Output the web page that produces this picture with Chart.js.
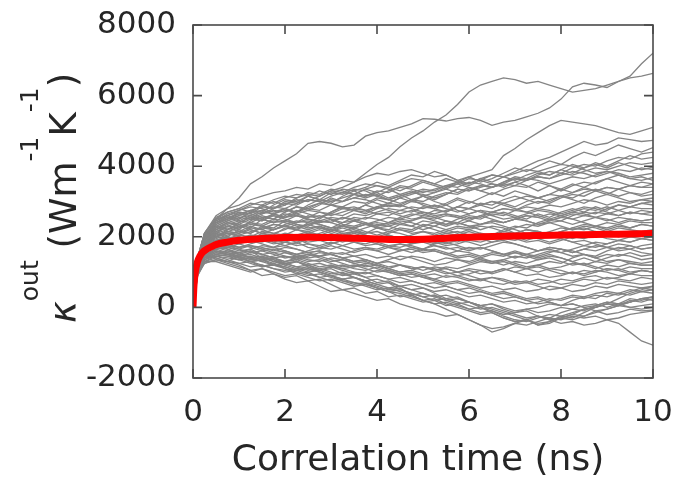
<!DOCTYPE html>
<html>
<head>
<meta charset="utf-8">
<script src="https://cdn.jsdelivr.net/npm/chart.js@4.4.0/dist/chart.umd.min.js"></script>
<style>
    html, body { margin: 0; padding: 0; background: #fff; }
    #chart { display: block; }
</style>
</head>
<body>
<canvas id="chart" width="679" height="478"></canvas>
<script>
// correlation time (ns) shared by every gray run
const times = [0, 0.1, 0.25, 0.5, 0.75, 1, 1.25, 1.5, 1.75, 2, 2.25, 2.5, 2.75, 3, 3.25, 3.5, 3.75, 4, 4.25, 4.5, 4.75, 5,
    5.25, 5.5, 5.75, 6, 6.25, 6.5, 6.75, 7, 7.25, 7.5, 7.75, 8, 8.25, 8.5, 8.75, 9, 9.25, 9.5, 9.75, 10];

// individual runs, kappa_out (W m^-1 K^-1)
const runA = [0, 1300, 1900, 2500, 2800, 3100, 3500, 3700, 3950, 4150, 4350, 4650, 4700, 4650, 4550, 4600, 4850, 4950, 5000, 5100, 5200, 5350, 5330, 5280, 5350, 5380, 5300, 5160, 5250, 5300, 5400, 5500, 5650, 5900, 6250, 6350, 6300, 6230, 6400, 6550, 6900, 7200];
const runB = [0, 1200, 1800, 2200, 2400, 2500, 2700, 2650, 2800, 2900, 3050, 3000, 3150, 3300, 3400, 3550, 3800, 4050, 4250, 4550, 4800, 5000, 5250, 5450, 5750, 6100, 6300, 6400, 6500, 6450, 6350, 6400, 6300, 6200, 6100, 6150, 6200, 6300, 6400, 6500, 6550, 6630];
const runC = [0, 1100, 1700, 2100, 2300, 2200, 2450, 2600, 2500, 2700, 2850, 2750, 2900, 3100, 3000, 3200, 3350, 3250, 3400, 3300, 3450, 3600, 3500, 3650, 3550, 3700, 3800, 3900, 4300, 4500, 4750, 4950, 5150, 5300, 5250, 5200, 5150, 5050, 4950, 4900, 5000, 5100];
const runD = [0, 900, 1300, 1400, 1300, 1200, 1050, 900, 950, 800, 700, 750, 600, 450, 500, 400, 300, 200, 250, 100, 0, -100, -150, -250, -200, -350, -500, -600, -550, -450, -500, -400, -300, -350, -250, -300, -250, -350, -450, -700, -950, -1070];
const runE = [0, 1000, 1400, 1700, 1600, 1500, 1400, 1450, 1300, 1200, 1100, 1150, 1000, 900, 800, 850, 700, 600, 500, 550, 350, 200, 100, -50, -200, -350, -500, -700, -600, -450, -350, -250, -300, -150, -50, -100, 50, 150, 100, 250, 200, 300];
const runF = [0, 1100, 1500, 1400, 1300, 1450, 1300, 1150, 1250, 1100, 950, 1000, 850, 900, 750, 650, 700, 550, 450, 300, 350, 200, 250, 100, 0, -100, -200, -150, -300, -400, -350, -500, -450, -300, -200, -250, -100, -200, -150, -50, -100, -80];
const runG = [0, 1200, 1600, 1800, 1650, 1500, 1600, 1400, 1350, 1200, 1300, 1150, 1050, 1100, 950, 1000, 850, 700, 750, 600, 500, 550, 400, 250, 300, 150, 50, 100, -50, -150, -100, -250, -350, -300, -200, -50, 0, 100, 50, 200, 150, 250];
const runH = [0, 1000, 1300, 1300, 1200, 1100, 1000, 1100, 950, 850, 900, 750, 800, 650, 500, 550, 400, 450, 300, 350, 250, 150, 200, 50, 100, -50, 0, -100, -200, -150, -50, 0, 100, 50, 200, 300, 250, 400, 350, 450, 550, 500];
const runI = [0, 1100, 1400, 1600, 1500, 1550, 1400, 1300, 1400, 1250, 1150, 1200, 1050, 950, 1000, 850, 750, 650, 700, 500, 400, 300, 350, 200, 100, 150, 0, -150, -300, -400, -350, -500, -400, -250, -300, -150, 0, 100, 250, 400, 500, 600];
const runJ = [0, 1300, 2000, 2400, 2600, 2500, 2700, 2900, 2800, 3000, 2950, 3150, 3050, 3250, 3200, 3350, 3300, 3150, 3300, 3450, 3400, 3550, 3450, 3350, 3500, 3650, 3600, 3750, 3700, 3850, 4000, 4150, 4250, 4400, 4550, 4700, 4600, 4650, 4800, 4750, 4700, 4730];
const runK = [0, 1200, 1900, 2300, 2200, 2400, 2550, 2450, 2650, 2800, 2700, 2900, 3050, 2950, 3150, 3300, 3400, 3550, 3450, 3600, 3750, 3700, 3850, 3750, 3600, 3700, 3550, 3650, 3800, 3950, 3850, 4000, 4150, 4050, 4250, 4400, 4300, 4450, 4600, 4500, 4400, 4530];
const runL = [0, 1100, 1700, 2000, 2200, 2350, 2250, 2500, 2400, 2600, 2750, 2650, 2550, 2700, 2850, 2750, 2900, 2800, 2950, 3100, 3000, 3150, 3050, 3200, 3350, 3300, 3450, 3400, 3550, 3700, 3650, 3800, 3750, 3900, 4050, 3950, 4100, 4000, 4150, 4300, 4200, 4250];
const runM = [0, 1400, 2100, 2600, 2800, 2900, 3050, 3150, 3250, 3300, 3400, 3350, 3500, 3450, 3600, 3550, 3700, 3800, 3750, 3850, 3900, 3800, 3700, 3750, 3600, 3500, 3650, 3550, 3700, 3600, 3750, 3850, 3750, 3900, 3800, 3950, 4050, 3950, 4100, 4000, 3900, 3970];
const runN = [0, 1300, 1950, 2400, 2500, 2700, 2650, 2850, 3000, 2900, 3100, 3200, 3150, 3300, 3250, 3400, 3500, 3450, 3350, 3200, 3300, 3150, 3250, 3350, 3250, 3400, 3300, 3200, 3350, 3450, 3400, 3550, 3450, 3300, 3450, 3550, 3500, 3650, 3750, 3650, 3600, 3680];
const runO = [0, 1200, 1800, 2100, 2000, 2200, 2100, 2300, 2250, 2450, 2400, 2600, 2500, 2700, 2850, 2750, 2900, 3050, 2950, 3100, 3200, 3300, 3250, 3400, 3550, 3450, 3600, 3500, 3400, 3550, 3450, 3300, 3450, 3350, 3500, 3400, 3550, 3650, 3550, 3450, 3400, 3500];
const runP = [0, 1350, 2000, 2300, 2450, 2600, 2750, 2700, 2900, 3050, 3000, 3150, 3300, 3200, 3350, 3300, 3150, 3250, 3100, 3200, 3050, 3150, 3000, 2900, 3050, 2950, 3100, 3250, 3150, 3300, 3200, 3100, 3200, 3350, 3250, 3400, 3300, 3200, 3350, 3250, 3200, 3300];
const runQ = [0, 1000, 1500, 1800, 1900, 2000, 1900, 2100, 2050, 2250, 2200, 2400, 2350, 2250, 2400, 2550, 2500, 2650, 2600, 2750, 2700, 2850, 2800, 2700, 2850, 3000, 2900, 2800, 2950, 2850, 3000, 3100, 3000, 3150, 3050, 2950, 3100, 3200, 3100, 3000, 3050, 3100];
const runR = [0, 1400, 2100, 2500, 2700, 2800, 2950, 2900, 3050, 3150, 3100, 3250, 3200, 3350, 3300, 3200, 3100, 3200, 3050, 2950, 3050, 2900, 2800, 2900, 2750, 2650, 2750, 2600, 2700, 2600, 2500, 2650, 2550, 2700, 2800, 2700, 2850, 2750, 2900, 2850, 2950, 2900];
const runS = [0, 1250, 1850, 2200, 2300, 2250, 2400, 2350, 2500, 2450, 2600, 2550, 2700, 2650, 2800, 2750, 2650, 2800, 2900, 2850, 3000, 2950, 2850, 2950, 3100, 3000, 2900, 3000, 2900, 2800, 2700, 2800, 2750, 2650, 2750, 2850, 2800, 2700, 2600, 2700, 2650, 2700];
const runT = [0, 1150, 1750, 2000, 2150, 2100, 2250, 2200, 2350, 2300, 2200, 2350, 2450, 2400, 2550, 2500, 2400, 2300, 2400, 2500, 2450, 2600, 2550, 2450, 2350, 2450, 2600, 2700, 2650, 2550, 2650, 2750, 2700, 2600, 2500, 2600, 2550, 2450, 2550, 2500, 2450, 2500];
const runU = [0, 1300, 1900, 2200, 2350, 2450, 2400, 2550, 2500, 2650, 2600, 2500, 2400, 2500, 2350, 2300, 2400, 2250, 2150, 2250, 2200, 2350, 2300, 2450, 2400, 2300, 2200, 2300, 2250, 2100, 2200, 2150, 2050, 2150, 2250, 2350, 2300, 2200, 2300, 2250, 2350, 2300];
const runV = [0, 1100, 1650, 1900, 1950, 2050, 2000, 2150, 2100, 2050, 2200, 2150, 2050, 2150, 2300, 2250, 2150, 2050, 2150, 2100, 2000, 1900, 2000, 2100, 2050, 2150, 2050, 1950, 2050, 2000, 1900, 2000, 2100, 2050, 1950, 2050, 2150, 2100, 2000, 2100, 2050, 2100];
const runW = [0, 1200, 1800, 2050, 2150, 2250, 2350, 2300, 2450, 2400, 2300, 2200, 2300, 2150, 2050, 2150, 2050, 1950, 2050, 1950, 1850, 1950, 1900, 1800, 1900, 1850, 1750, 1850, 1950, 1900, 2000, 1950, 1850, 1950, 1850, 1750, 1850, 1800, 1900, 1850, 1950, 1900];
const runX = [0, 1050, 1550, 1750, 1850, 1800, 1900, 1850, 1950, 2050, 2000, 2100, 2050, 1950, 1850, 1950, 1900, 1800, 1700, 1800, 1750, 1650, 1750, 1700, 1600, 1700, 1650, 1750, 1850, 1800, 1700, 1600, 1700, 1650, 1550, 1650, 1600, 1700, 1650, 1750, 1650, 1700];
const runY = [0, 1150, 1700, 1900, 2000, 1950, 2050, 2000, 1900, 1850, 1950, 1800, 1750, 1850, 1750, 1650, 1700, 1600, 1700, 1650, 1550, 1650, 1600, 1500, 1600, 1550, 1450, 1550, 1500, 1400, 1500, 1450, 1550, 1650, 1600, 1500, 1400, 1500, 1450, 1550, 1450, 1500];
const runZ = [0, 1000, 1450, 1650, 1700, 1650, 1750, 1700, 1600, 1700, 1650, 1550, 1600, 1500, 1550, 1450, 1500, 1400, 1450, 1350, 1450, 1400, 1300, 1400, 1350, 1250, 1350, 1300, 1200, 1300, 1250, 1350, 1450, 1400, 1300, 1200, 1300, 1250, 1350, 1300, 1250, 1300];
const runAA = [0, 1100, 1600, 1800, 1750, 1650, 1550, 1600, 1500, 1400, 1450, 1350, 1300, 1400, 1350, 1250, 1300, 1200, 1100, 1200, 1150, 1050, 1150, 1100, 1000, 1100, 1050, 950, 1050, 1150, 1100, 1000, 1100, 1050, 950, 1050, 1000, 1100, 1050, 1150, 1100, 1100];
const runAB = [0, 1000, 1400, 1550, 1500, 1450, 1350, 1400, 1300, 1250, 1300, 1200, 1250, 1150, 1200, 1100, 1050, 1150, 1050, 950, 1000, 900, 950, 850, 900, 800, 750, 850, 800, 700, 750, 650, 700, 800, 750, 850, 900, 800, 850, 950, 900, 900];
const runAC = [0, 1150, 1650, 1800, 1700, 1600, 1650, 1500, 1550, 1450, 1400, 1300, 1350, 1250, 1150, 1200, 1100, 1000, 1050, 950, 850, 900, 800, 700, 750, 650, 550, 600, 500, 550, 450, 500, 600, 550, 650, 600, 700, 650, 750, 700, 650, 700];
const runAD = [0, 950, 1350, 1500, 1450, 1400, 1300, 1350, 1200, 1150, 1050, 1100, 1000, 900, 950, 850, 750, 800, 700, 600, 650, 550, 450, 500, 400, 300, 350, 250, 150, 200, 100, 150, 250, 200, 300, 250, 350, 300, 400, 350, 450, 400];
const runAE = [0, 1050, 1500, 1650, 1550, 1500, 1400, 1450, 1350, 1250, 1300, 1200, 1100, 1150, 1050, 950, 1000, 900, 800, 850, 750, 650, 700, 600, 500, 550, 450, 350, 400, 300, 200, 250, 150, 50, 100, 0, 50, 150, 100, 0, 50, 100];
const runAF = [0, 1000, 1400, 1500, 1600, 1550, 1650, 1750, 1700, 1850, 1800, 1950, 1900, 2050, 2000, 2150, 2100, 2250, 2200, 2350, 2300, 2450, 2400, 2300, 2400, 2550, 2500, 2650, 2600, 2750, 2700, 2600, 2500, 2600, 2700, 2650, 2550, 2650, 2600, 2700, 2650, 2600];
const runAG = [0, 1400, 2100, 2500, 2600, 2700, 2650, 2550, 2600, 2500, 2400, 2450, 2350, 2250, 2300, 2200, 2100, 2150, 2050, 1950, 2000, 1900, 1800, 1850, 1750, 1650, 1700, 1600, 1500, 1550, 1450, 1350, 1400, 1300, 1200, 1250, 1150, 1050, 1100, 1000, 1050, 1000];
const runAH = [0, 1200, 1750, 2000, 2100, 2000, 1900, 2000, 1850, 1750, 1850, 1700, 1650, 1750, 1650, 1550, 1650, 1600, 1500, 1600, 1700, 1650, 1800, 1900, 1850, 2000, 2100, 2050, 2200, 2300, 2250, 2400, 2500, 2450, 2600, 2700, 2650, 2800, 2900, 2850, 2950, 3000];
const runAI = [0, 1300, 1900, 2250, 2400, 2350, 2500, 2450, 2600, 2550, 2700, 2800, 2750, 2900, 2850, 3000, 2950, 3100, 3050, 3150, 3250, 3200, 3100, 3200, 3350, 3300, 3400, 3500, 3450, 3550, 3650, 3600, 3500, 3600, 3700, 3650, 3750, 3850, 3800, 3700, 3750, 3800];
const runAJ = [0, 1100, 1600, 1800, 1700, 1800, 1700, 1600, 1650, 1550, 1450, 1500, 1400, 1300, 1350, 1250, 1150, 1200, 1100, 1000, 1050, 950, 1050, 1150, 1100, 1200, 1300, 1250, 1350, 1450, 1400, 1500, 1600, 1550, 1650, 1750, 1700, 1800, 1900, 1850, 1950, 2000];
const runAK = [0, 1400, 2050, 2450, 2600, 2750, 2850, 2800, 2700, 2800, 2650, 2550, 2600, 2500, 2400, 2450, 2350, 2450, 2550, 2500, 2600, 2700, 2650, 2750, 2850, 2800, 2900, 3000, 2950, 3050, 3150, 3100, 3200, 3150, 3250, 3350, 3300, 3400, 3350, 3450, 3400, 3400];
const runAL = [0, 1200, 1750, 2050, 2150, 2100, 2200, 2100, 2000, 2050, 1950, 1850, 1900, 1800, 1900, 2000, 1950, 1850, 1750, 1800, 1700, 1600, 1650, 1550, 1450, 1500, 1400, 1300, 1350, 1250, 1150, 1200, 1100, 1150, 1250, 1200, 1100, 1200, 1150, 1250, 1200, 1200];
const runAM = [0, 1350, 1950, 2350, 2500, 2600, 2550, 2700, 2650, 2550, 2650, 2750, 2700, 2600, 2700, 2800, 2750, 2850, 2750, 2650, 2750, 2650, 2550, 2650, 2600, 2500, 2600, 2500, 2400, 2500, 2450, 2350, 2450, 2550, 2500, 2400, 2300, 2400, 2350, 2450, 2400, 2400];
const runAN = [0, 1250, 1850, 2150, 2300, 2400, 2550, 2500, 2650, 2750, 2700, 2850, 2950, 2900, 3000, 3100, 3050, 2950, 2850, 2900, 2800, 2700, 2600, 2650, 2550, 2450, 2350, 2400, 2300, 2200, 2100, 2150, 2050, 1950, 1850, 1900, 1800, 1700, 1600, 1650, 1550, 1500];
const runAO = [0, 900, 1250, 1350, 1300, 1250, 1150, 1200, 1100, 1050, 1100, 1000, 1050, 1150, 1100, 1000, 950, 1050, 1000, 900, 950, 850, 800, 900, 850, 750, 800, 700, 650, 750, 700, 800, 750, 650, 700, 800, 750, 850, 800, 750, 850, 800];
const runAP = [0, 1050, 1500, 1650, 1750, 1700, 1800, 1900, 1850, 1950, 2050, 2000, 2100, 2200, 2150, 2250, 2350, 2300, 2400, 2350, 2450, 2550, 2500, 2600, 2550, 2650, 2750, 2700, 2800, 2750, 2850, 2800, 2900, 2850, 2950, 3050, 3000, 2900, 3000, 2950, 3050, 3000];
const runAQ = [0, 1000, 1400, 1450, 1350, 1250, 1300, 1200, 1100, 1000, 1050, 950, 850, 750, 800, 700, 600, 500, 550, 450, 350, 400, 300, 200, 250, 150, 50, 100, 0, -100, -50, -150, -100, 0, -50, 50, 100, 0, 100, 150, 250, 200];
const runAR = [0, 1150, 1700, 1950, 2050, 2150, 2100, 2250, 2350, 2300, 2400, 2500, 2450, 2550, 2500, 2650, 2600, 2700, 2800, 2750, 2850, 2800, 2900, 2800, 2700, 2800, 2700, 2600, 2500, 2550, 2450, 2350, 2400, 2300, 2200, 2250, 2150, 2050, 2100, 2000, 1950, 1900];
const runAS = [0, 1250, 1800, 2000, 1950, 1850, 1900, 1800, 1700, 1750, 1650, 1550, 1600, 1500, 1400, 1450, 1350, 1250, 1300, 1200, 1100, 1150, 1050, 950, 1000, 900, 800, 850, 750, 650, 700, 600, 500, 550, 450, 500, 600, 550, 650, 600, 550, 600];
const runAT = [0, 1300, 1950, 2300, 2450, 2550, 2500, 2650, 2750, 2700, 2850, 2800, 2950, 3050, 3000, 3100, 3200, 3150, 3050, 3150, 3250, 3350, 3300, 3450, 3550, 3500, 3650, 3750, 3700, 3800, 3900, 3850, 3950, 4050, 4000, 3900, 3800, 3850, 3750, 3650, 3700, 3600];
const runAU = [0, 1050, 1550, 1700, 1650, 1550, 1600, 1500, 1400, 1450, 1350, 1450, 1550, 1500, 1400, 1300, 1350, 1250, 1350, 1450, 1400, 1300, 1200, 1250, 1350, 1300, 1400, 1500, 1450, 1550, 1500, 1600, 1700, 1650, 1550, 1650, 1750, 1700, 1800, 1750, 1650, 1700];
const runAV = [0, 1350, 2000, 2400, 2550, 2450, 2600, 2500, 2400, 2450, 2350, 2250, 2300, 2200, 2100, 2150, 2050, 1950, 2000, 1900, 1850, 1950, 1850, 1750, 1800, 1900, 1850, 1950, 2050, 2000, 2100, 2050, 2150, 2250, 2200, 2300, 2250, 2150, 2250, 2200, 2150, 2200];
const runAW = [0, 1000, 1350, 1450, 1400, 1350, 1250, 1150, 1200, 1100, 1000, 900, 950, 850, 750, 700, 650, 550, 450, 400, 300, 200, 100, 150, 50, -50, -150, -100, -250, -350, -400, -300, -200, -250, -150, -50, 0, 100, 50, 150, 250, 300];
const runAX = [0, 1350, 2000, 2450, 2650, 2750, 2900, 3000, 2950, 3100, 3200, 3150, 3050, 3000, 3100, 3200, 3150, 3300, 3250, 3400, 3350, 3250, 3350, 3450, 3400, 3550, 3500, 3400, 3500, 3650, 3600, 3700, 3650, 3800, 3750, 3850, 3950, 3900, 4000, 4100, 4050, 4100];
const runAY = [0, 1200, 1800, 2100, 2200, 2300, 2200, 2100, 2200, 2300, 2250, 2350, 2250, 2150, 2250, 2150, 2250, 2350, 2300, 2400, 2300, 2200, 2300, 2200, 2100, 2200, 2300, 2250, 2150, 2250, 2350, 2300, 2400, 2450, 2350, 2450, 2550, 2500, 2400, 2500, 2450, 2500];
const runAZ = [0, 950, 1300, 1450, 1500, 1450, 1550, 1500, 1400, 1300, 1350, 1250, 1150, 1200, 1100, 1150, 1250, 1200, 1100, 1000, 1050, 1150, 1100, 1000, 900, 950, 1050, 1000, 1100, 1000, 900, 950, 850, 900, 1000, 950, 1050, 1000, 900, 950, 1050, 1000];
const runBA = [0, 1250, 1800, 2150, 2250, 2150, 2300, 2200, 2100, 2200, 2350, 2300, 2450, 2400, 2300, 2450, 2550, 2500, 2400, 2550, 2650, 2600, 2750, 2700, 2850, 2800, 2950, 2900, 3050, 3150, 3050, 2950, 3050, 3150, 3100, 3250, 3350, 3250, 3150, 3250, 3150, 3200];
const runBB = [0, 950, 1250, 1350, 1250, 1150, 1050, 1100, 1000, 900, 950, 850, 750, 800, 700, 600, 650, 550, 450, 500, 400, 300, 200, 250, 150, 50, -50, 0, -100, -200, -300, -250, -350, -450, -400, -500, -450, -350, -300, -200, -150, -100];
const runBC = [0, 1300, 1950, 2350, 2500, 2650, 2600, 2750, 2850, 2800, 2950, 3050, 3000, 3150, 3250, 3200, 3350, 3450, 3400, 3550, 3650, 3600, 3500, 3400, 3500, 3400, 3300, 3400, 3500, 3450, 3600, 3700, 3650, 3750, 3850, 3800, 3700, 3800, 3900, 3850, 3950, 3900];
const runBD = [0, 1300, 1900, 2250, 2400, 2300, 2400, 2300, 2200, 2300, 2200, 2100, 2200, 2100, 2000, 2100, 2000, 1900, 2000, 1900, 1800, 1850, 1750, 1650, 1700, 1600, 1700, 1600, 1500, 1600, 1500, 1400, 1500, 1400, 1300, 1400, 1300, 1400, 1500, 1450, 1350, 1400];
const runBE = [0, 1050, 1450, 1600, 1550, 1450, 1500, 1400, 1450, 1550, 1500, 1600, 1700, 1650, 1750, 1850, 1800, 1900, 2000, 1950, 2050, 2150, 2100, 2200, 2300, 2250, 2350, 2450, 2400, 2500, 2600, 2550, 2650, 2600, 2700, 2800, 2750, 2850, 2750, 2850, 2800, 2800];
const runBF = [0, 1150, 1650, 1850, 1800, 1700, 1750, 1650, 1550, 1600, 1500, 1400, 1450, 1350, 1250, 1150, 1200, 1100, 1000, 900, 950, 850, 750, 650, 700, 600, 500, 400, 450, 350, 250, 300, 200, 250, 350, 300, 400, 450, 400, 500, 450, 500];
const runBG = [0, 1200, 1750, 2000, 2100, 2050, 2150, 2250, 2200, 2350, 2450, 2400, 2550, 2650, 2600, 2750, 2700, 2850, 2950, 2900, 3050, 3000, 3150, 3250, 3200, 3350, 3450, 3400, 3550, 3650, 3600, 3750, 3850, 3800, 3950, 4050, 4000, 4150, 4250, 4200, 4350, 4400];
const runBH = [0, 1100, 1550, 1750, 1800, 1700, 1750, 1650, 1700, 1600, 1500, 1550, 1450, 1500, 1400, 1300, 1350, 1250, 1150, 1200, 1100, 1150, 1050, 1100, 1000, 1050, 950, 1000, 1100, 1000, 1100, 1200, 1300, 1250, 1400, 1500, 1450, 1600, 1700, 1650, 1750, 1800];
const runBI = [0, 1350, 2000, 2400, 2550, 2650, 2750, 2850, 2800, 2950, 2900, 3050, 3000, 2900, 2800, 2850, 2750, 2650, 2700, 2600, 2500, 2550, 2450, 2350, 2400, 2300, 2350, 2450, 2400, 2500, 2600, 2550, 2450, 2550, 2650, 2600, 2700, 2650, 2750, 2650, 2750, 2700];
const runBJ = [0, 1200, 1700, 1900, 1850, 1950, 1850, 1900, 1800, 1850, 1750, 1800, 1700, 1800, 1900, 1850, 1750, 1800, 1700, 1600, 1650, 1550, 1600, 1500, 1400, 1450, 1350, 1250, 1300, 1200, 1100, 1150, 1050, 950, 1000, 900, 1000, 1100, 1050, 950, 1050, 1000];
const runBK = [0, 1150, 1650, 1900, 2000, 1900, 2000, 1950, 2050, 1950, 1850, 1950, 2050, 2000, 2100, 2000, 1900, 2000, 2100, 2200, 2150, 2300, 2400, 2350, 2500, 2600, 2550, 2700, 2800, 2750, 2900, 3000, 2950, 3100, 3200, 3150, 3300, 3400, 3350, 3450, 3550, 3500];
const runBL = [0, 1000, 1350, 1500, 1450, 1350, 1400, 1300, 1200, 1250, 1150, 1050, 1100, 1000, 900, 950, 850, 900, 800, 700, 750, 650, 550, 600, 500, 400, 450, 350, 250, 300, 200, 100, 150, 50, 100, 0, -100, -50, 50, 0, -50, 0];
const runBM = [0, 1400, 2100, 2550, 2700, 2800, 2700, 2750, 2650, 2550, 2600, 2500, 2400, 2450, 2550, 2450, 2350, 2250, 2300, 2200, 2100, 2150, 2050, 2150, 2250, 2200, 2100, 2000, 2050, 1950, 1850, 1900, 1800, 1900, 2000, 1950, 2050, 1950, 1900, 2000, 2050, 2000];
const runBN = [0, 1100, 1600, 1800, 1900, 1850, 1950, 2050, 2000, 2100, 2050, 2150, 2250, 2200, 2300, 2250, 2350, 2400, 2350, 2450, 2400, 2300, 2200, 2100, 2150, 2050, 1950, 1850, 1900, 1800, 1700, 1600, 1650, 1550, 1450, 1500, 1400, 1300, 1350, 1250, 1200, 1200];
const runBO = [0, 1000, 1400, 1550, 1500, 1400, 1450, 1350, 1400, 1300, 1400, 1500, 1450, 1550, 1500, 1600, 1700, 1650, 1750, 1700, 1800, 1900, 1850, 1950, 1900, 2000, 1950, 2050, 2150, 2100, 2200, 2150, 2050, 2150, 2250, 2200, 2300, 2250, 2350, 2250, 2350, 2300];
const runBP = [0, 1050, 1450, 1600, 1500, 1400, 1300, 1350, 1250, 1150, 1050, 1100, 1000, 900, 800, 850, 750, 650, 550, 600, 500, 400, 300, 350, 250, 150, 50, -50, -150, -250, -350, -450, -400, -300, -350, -250, -150, -50, 50, 150, 250, 300];

const runs = [runA, runB, runC, runD, runE, runF, runG, runH, runI, runJ, runK, runL, runM, runN, runO, runP, runQ, runR,
    runS, runT, runU, runV, runW, runX, runY, runZ, runAA, runAB, runAC, runAD, runAE, runAF, runAG, runAH, runAI, runAJ,
    runAK, runAL, runAM, runAN, runAO, runAP, runAQ, runAR, runAS, runAT, runAU, runAV, runAW, runAX, runAY, runAZ,
    runBA, runBB, runBC, runBD, runBE, runBF, runBG, runBH, runBI, runBJ, runBK, runBL, runBM, runBN, runBO, runBP];

// average over runs (red curve)
const meanTimes = [0, 0.02, 0.05, 0.1, 0.15, 0.2, 0.3, 0.4, 0.5, 0.75, 1, 1.5, 2, 2.5, 3, 3.5, 4, 4.5, 5, 5.5, 6, 6.5, 7, 7.5, 8, 8.5, 9, 9.5, 10];
const meanKappa = [0, 600, 1000, 1300, 1450, 1550, 1650, 1720, 1780, 1850, 1900, 1950, 1980, 1990, 1980, 1960, 1940, 1920, 1930, 1960, 1990, 2010, 2020, 2040, 2050, 2060, 2070, 2080, 2090];

const xTicks = [0, 2, 4, 6, 8, 10];
const yTicks = [-2000, 0, 2000, 4000, 6000, 8000];

const xTitle = 'Correlation time (ns)';
const yTitleParts = [
    { text: 'κ', sup: false, italic: true },
    { text: 'out', sup: true },
    { text: ' (Wm', sup: false },
    { text: '-1', sup: true },
    { text: 'K', sup: false },
    { text: '-1', sup: true },
    { text: ')', sup: false },
];

const FONT = '"DejaVu Sans", sans-serif';
const TEXT_COLOR = '#262626';

const toPoints = (xs, ys) => xs.map((x, i) => ({ x, y: ys[i] }));

const frame = {
    id: 'frame',
    afterDatasetsDraw(chart) {
        const { ctx, chartArea, scales } = chart;
        const { left, right, top, bottom } = chartArea;
        ctx.save();
        ctx.strokeStyle = '#4a4a4a';
        ctx.lineWidth = 1.6;
        ctx.strokeRect(left, top, right - left, bottom - top);
        ctx.beginPath();
        xTicks.forEach((v) => {
            const px = scales.x.getPixelForValue(v);
            ctx.moveTo(px, bottom);
            ctx.lineTo(px, bottom - 9);
            ctx.moveTo(px, top);
            ctx.lineTo(px, top + 9);
        });
        yTicks.forEach((v) => {
            const py = scales.y.getPixelForValue(v);
            ctx.moveTo(left, py);
            ctx.lineTo(left + 9, py);
            ctx.moveTo(right, py);
            ctx.lineTo(right - 9, py);
        });
        ctx.stroke();
        ctx.restore();
    },
};

const axisTitles = {
    id: 'axisTitles',
    afterDraw(chart) {
        const { ctx } = chart;
        ctx.save();
        ctx.fillStyle = TEXT_COLOR;
        ctx.textBaseline = 'alphabetic';

        ctx.font = `36px ${FONT}`;
        ctx.textAlign = 'center';
        ctx.fillText(xTitle, 418, 470);

        // rotated y title with superscripts
        ctx.textAlign = 'left';
        const fontFor = (p) => `${p.italic ? 'italic ' : ''}${p.sup ? 25 : 37}px ${FONT}`;
        let total = 0;
        yTitleParts.forEach((p) => {
            ctx.font = fontFor(p);
            total += ctx.measureText(p.text).width;
        });
        ctx.translate(76, 198);
        ctx.rotate(-Math.PI / 2);
        let pos = -total / 2;
        yTitleParts.forEach((p) => {
            ctx.font = fontFor(p);
            ctx.fillText(p.text, pos, p.sup ? -38 : 0);
            pos += ctx.measureText(p.text).width;
        });
        ctx.restore();
    },
};

const datasets = runs.map((run) => ({
    data: toPoints(times, run),
    borderColor: 'rgb(132,132,132)',
    borderWidth: 1.3,
    pointRadius: 0,
    tension: 0,
    order: 1,
}));

datasets.push({
    data: toPoints(meanTimes, meanKappa),
    borderColor: '#ff0000',
    borderWidth: 7,
    pointRadius: 0,
    cubicInterpolationMode: 'monotone',
    order: 0,
});

new Chart(document.getElementById('chart'), {
    type: 'line',
    data: { datasets },
    options: {
        responsive: false,
        animation: false,
        devicePixelRatio: 1,
        layout: { padding: { top: 25, right: 26, left: 0, bottom: 0 } },
        plugins: {
            legend: { display: false },
            tooltip: { enabled: false },
        },
        scales: {
            x: {
                type: 'linear',
                min: 0,
                max: 10,
                afterBuildTicks: (scale) => {
                    scale.ticks = xTicks.map((value) => ({ value }));
                },
                ticks: {
                    font: { family: FONT, size: 31 },
                    color: TEXT_COLOR,
                    padding: 16,
                    maxRotation: 0,
                    callback: (value) => `${value}`,
                },
                grid: { display: false, drawTicks: false },
                border: { display: false },
                afterFit: (scale) => {
                    scale.height = 100;
                    scale.paddingLeft = 0;
                    scale.paddingRight = 0;
                },
            },
            y: {
                type: 'linear',
                min: -2000,
                max: 8000,
                afterBuildTicks: (scale) => {
                    scale.ticks = yTicks.map((value) => ({ value }));
                },
                ticks: {
                    font: { family: FONT, size: 31 },
                    color: TEXT_COLOR,
                    padding: 17,
                    callback: (value) => `${value}`,
                },
                grid: { display: false, drawTicks: false },
                border: { display: false },
                afterFit: (scale) => {
                    scale.width = 193;
                    scale.paddingTop = 0;
                    scale.paddingBottom = 0;
                },
            },
        },
    },
    plugins: [frame, axisTitles],
});
</script>
</body>
</html>
